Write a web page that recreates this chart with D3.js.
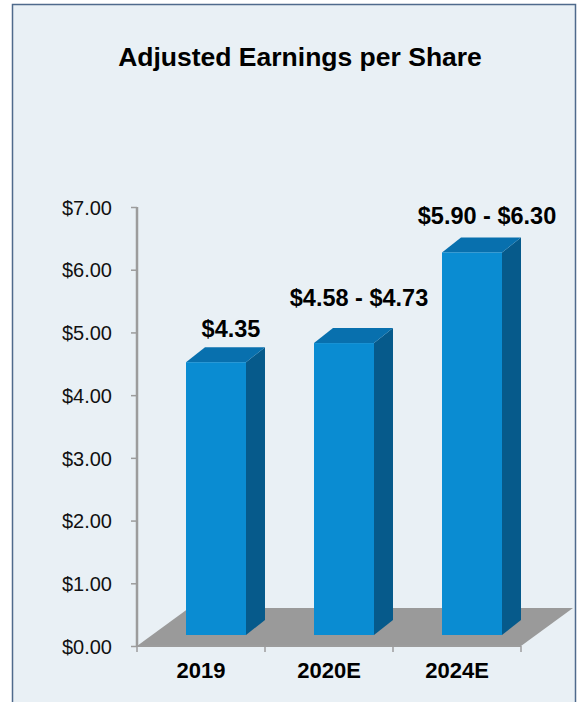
<!DOCTYPE html>
<html>
<head>
<meta charset="utf-8">
<script src="https://cdn.jsdelivr.net/npm/d3@7"></script>
<style>
  html, body { margin: 0; padding: 0; background: #ffffff; }
  svg { display: block; font-family: "Liberation Sans", Arial, Helvetica, sans-serif; }
</style>
</head>
<body>
<svg id="chart" width="578" height="702"></svg>
<script>
// Adjusted EPS: actual 2019 and guidance ranges for 2020E and 2024E
const categories = ["2019", "2020E", "2024E"];
const lowValues  = [4.35, 4.58, 5.90];
const highValues = [4.35, 4.73, 6.30];
const valueLabels = ["$4.35", "$4.58 - $4.73", "$5.90 - $6.30"];
const tickValues = [0, 1, 2, 3, 4, 5, 6, 7];

// bar height = midpoint of each range
const barValues = lowValues.map((lo, i) => (lo + highValues[i]) / 2);

const svg = d3.select("#chart");

// panel
svg.append("rect")
  .attr("x", 12.5).attr("y", 4.5)
  .attr("width", 563).attr("height", 710)
  .attr("fill", "#e9f0f5")
  .attr("stroke", "#4f6a8c")
  .attr("stroke-width", 1.5);

svg.append("text")
  .attr("x", 300).attr("y", 66)
  .attr("text-anchor", "middle")
  .attr("font-size", 26.5).attr("font-weight", "bold")
  .attr("fill", "#000")
  .text("Adjusted Earnings per Share");

const y = d3.scaleLinear().domain([0, 7]).range([646, 207]);
const x = d3.scaleBand().domain(categories).range([137, 521]).paddingInner(0).paddingOuter(0);

// pseudo-3D geometry
const floorDepth = [52, -38];   // floor depth vector
const barSetback = [15, -11];   // bars sit partway into the floor
const barDepth = [19, -15];     // bar thickness
const barWidth = 60;

// floor
const y0 = y(0);
const xl = x.range()[0], xr = x.range()[1];
svg.append("path")
  .attr("d", d3.line()([
    [xl, y0], [xr, y0],
    [xr + floorDepth[0], y0 + floorDepth[1]],
    [xl + floorDepth[0], y0 + floorDepth[1]]
  ]) + "Z")
  .attr("fill", "#9a9a9a");

// value axis
const yAxis = d3.axisLeft(y)
  .tickValues(tickValues)
  .tickFormat(d => "$" + d3.format(".2f")(d))
  .tickSize(6)
  .tickPadding(19);
const gy = svg.append("g").attr("transform", `translate(${xl},0)`).call(yAxis);
gy.select(".domain").attr("stroke", "#9c9c9c").attr("stroke-width", 2.5)
  .attr("d", `M0,${y(7)}V${y0}`);
gy.selectAll(".tick line").attr("stroke", "#9c9c9c").attr("stroke-width", 1.5);
gy.selectAll(".tick text")
  .attr("font-size", 20).attr("fill", "#111")
  .attr("font-family", "Liberation Sans, Arial, sans-serif")
  .attr("dy", "0.36em");

// category axis
const boundaries = categories.map(c => x(c)).concat([xr]);
svg.append("line")
  .attr("x1", xl).attr("x2", xr).attr("y1", y0).attr("y2", y0)
  .attr("stroke", "#9c9c9c").attr("stroke-width", 2);
svg.selectAll(".xtick").data(boundaries).join("line")
  .attr("x1", d => d).attr("x2", d => d)
  .attr("y1", y0).attr("y2", y0 + 6)
  .attr("stroke", "#9c9c9c").attr("stroke-width", 1.5);
svg.selectAll(".xlabel").data(categories).join("text")
  .attr("x", d => x(d) + x.bandwidth() / 2)
  .attr("y", 678)
  .attr("text-anchor", "middle")
  .attr("font-size", 22).attr("font-weight", "bold")
  .attr("fill", "#000")
  .text(d => d);

// bars
const bars = svg.selectAll(".bar").data(categories).join("g").attr("class", "bar");
bars.each(function (c, i) {
  const g = d3.select(this);
  const cx = x(c) + x.bandwidth() / 2;
  const x0 = cx - barWidth / 2 + barSetback[0];
  const x1 = x0 + barWidth;
  const yb = y(0) + barSetback[1];
  const yt = y(barValues[i]) + barSetback[1];
  const [dx, dy] = barDepth;
  // side face
  g.append("path")
    .attr("d", d3.line()([[x1, yt], [x1 + dx, yt + dy], [x1 + dx, yb + dy], [x1, yb]]) + "Z")
    .attr("fill", "#065a8b");
  // top face
  g.append("path")
    .attr("d", d3.line()([[x0, yt], [x1, yt], [x1 + dx, yt + dy], [x0 + dx, yt + dy]]) + "Z")
    .attr("fill", "#0870ae");
  // front face
  g.append("rect")
    .attr("x", x0).attr("y", yt)
    .attr("width", barWidth).attr("height", yb - yt)
    .attr("fill", "#0a8cd2");
});

// value labels above the bars
const labelLift = [25, 37, 28];
svg.selectAll(".vlabel").data(categories).join("text")
  .attr("x", d => x(d) + x.bandwidth() / 2 + 30)
  .attr("y", (d, i) => y(barValues[i]) + barSetback[1] - labelLift[i])
  .attr("text-anchor", "middle")
  .attr("font-size", 23.5).attr("font-weight", "bold")
  .attr("fill", "#000")
  .text((d, i) => valueLabels[i]);
</script>
</body>
</html>
